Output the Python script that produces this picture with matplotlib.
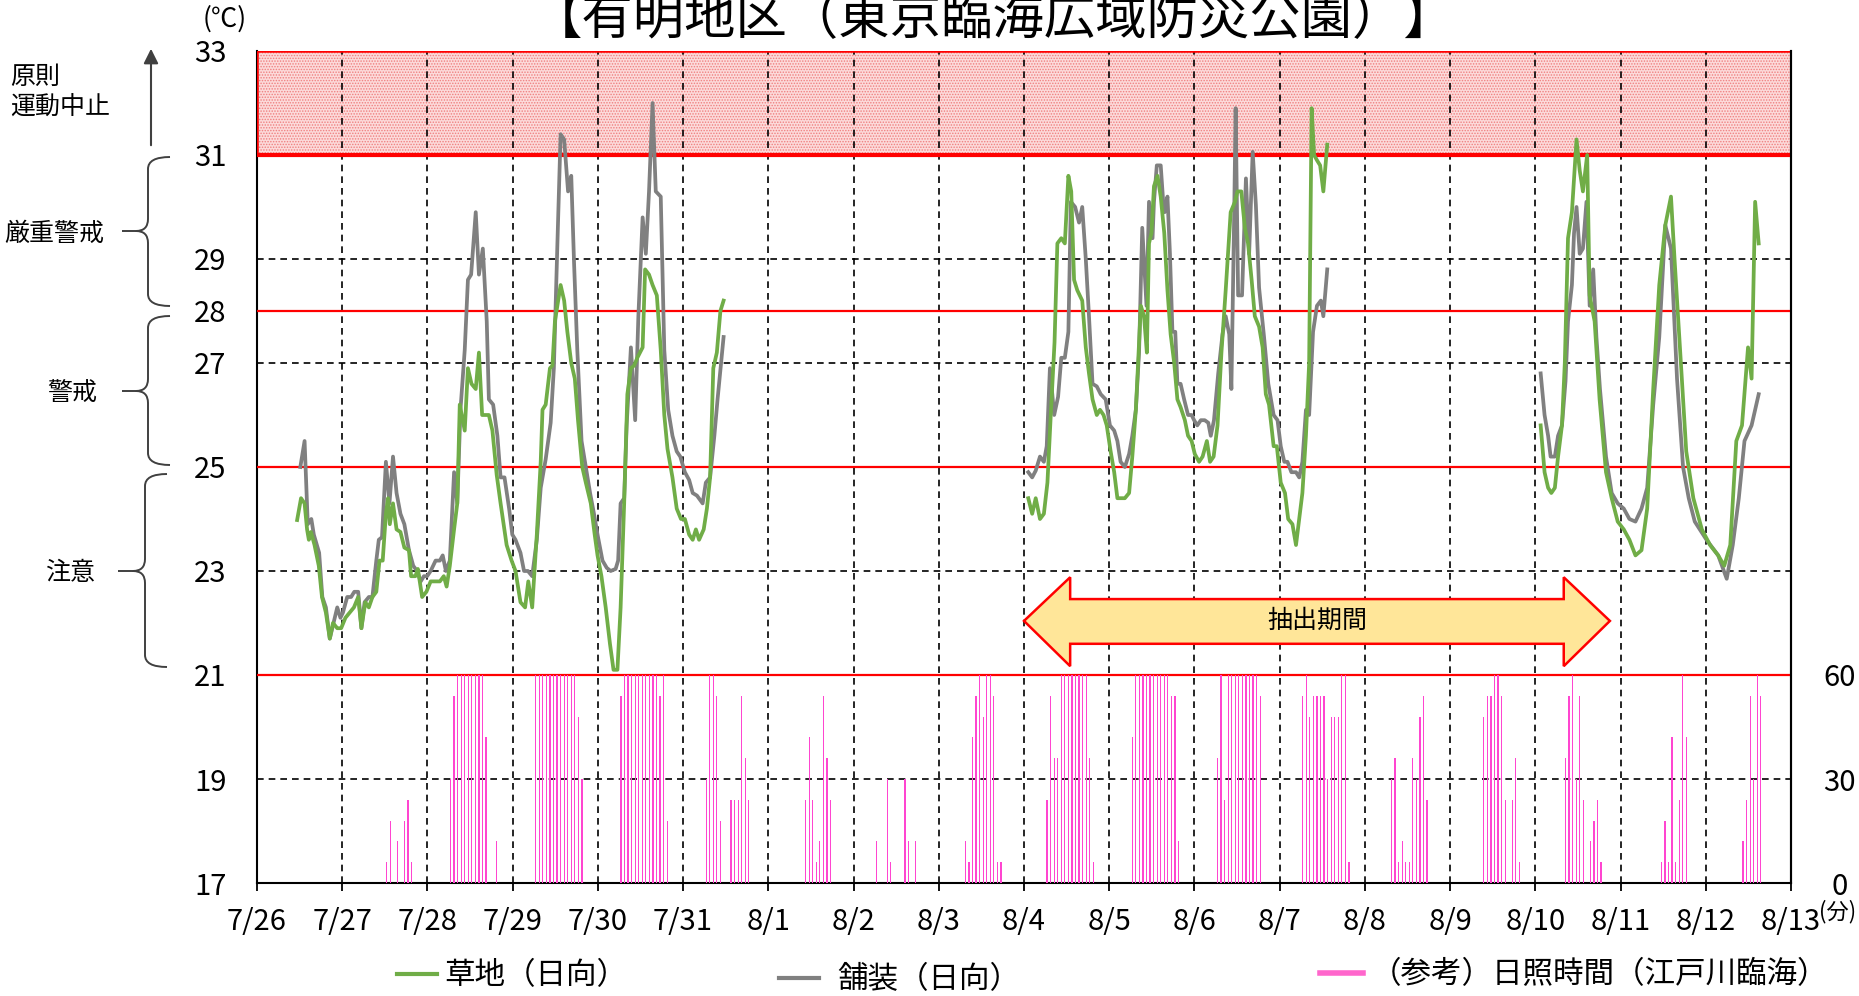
import numpy as np
import matplotlib
matplotlib.use("Agg")
import matplotlib.pyplot as plt
from matplotlib.patches import Rectangle, Polygon, PathPatch, FancyArrowPatch
from matplotlib.lines import Line2D
from matplotlib.path import Path

plt.rcParams["font.family"] = ["Noto Sans CJK JP", "DejaVu Sans"]
plt.rcParams["hatch.linewidth"] = 0.7

W, H = 1859, 996

date_labels = ["7/26", "7/27", "7/28", "7/29", "7/30", "7/31", "8/1", "8/2", "8/3",
               "8/4", "8/5", "8/6", "8/7", "8/8", "8/9", "8/10", "8/11", "8/12", "8/13"]
temp_ticks = [17, 19, 21, 23, 25, 27, 28, 29, 31, 33]
sun_ticks = [0, 30, 60]

# hours counted from 7/26 0:00
# 舗装（日向）
paved_h1 = [12.2, 13.4, 14.3, 15.3, 16.0, 17.5, 18.4, 19.4, 20.5, 22.6,
            23.5, 24.2, 25.4, 26.5, 27.4, 28.5, 29.4, 30.3, 31.5, 32.5,
            33.6, 34.3, 35.2, 36.3, 37.3, 38.3, 39.3, 40.4, 41.5, 42.8,
            44.0, 45.1, 46.1, 47.0, 47.9, 48.9, 50.3, 51.5, 52.3, 53.2,
            54.3, 55.5, 56.4, 57.3, 58.5, 59.4, 60.3, 61.6, 62.5, 63.6,
            64.7, 65.3, 66.5, 67.7, 68.6, 69.7, 71.0, 71.9, 72.8, 74.2,
            75.2, 76.3, 77.5, 78.8, 79.9, 81.3, 82.7, 83.6, 84.6, 85.5,
            86.5, 87.6, 88.5, 89.3, 90.2, 91.4, 92.6, 93.8, 94.9, 95.9,
            97.3, 98.5, 99.6, 101.0, 101.7, 102.4, 103.4, 104.1, 105.3, 106.5,
            107.4, 108.6, 109.5, 110.4, 111.4, 112.3, 113.7, 114.7, 115.8, 117.0,
            118.2, 119.2, 120.5, 121.7, 122.7, 123.9, 125.5, 126.4, 127.6, 128.8,
            129.7, 131.4]
paved_t1 = [25.0, 25.5, 23.9, 24.0, 23.7, 23.35, 22.5, 22.3, 21.7, 22.3,
            22.1, 22.2, 22.5, 22.5, 22.6, 22.6, 21.9, 22.4, 22.5, 22.5,
            23.2, 23.6, 23.65, 25.1, 24.3, 25.2, 24.5, 24.1, 23.9, 23.4,
            23.1, 23.0, 22.8, 22.9, 22.9, 23.0, 23.2, 23.2, 23.3, 23.0,
            23.2, 24.9, 24.3, 26.1, 27.25, 28.6, 28.7, 29.9, 28.7, 29.2,
            27.8, 26.3, 26.2, 25.6, 24.8, 24.8, 24.2, 23.7, 23.6, 23.35,
            23.0, 23.0, 22.9, 23.6, 24.6, 25.15, 25.85, 26.9, 29.3, 31.4,
            31.3, 30.3, 30.6, 28.9, 27.25, 25.5, 25.0, 24.5, 24.1, 23.7,
            23.2, 23.06, 23.0, 23.04, 23.2, 24.3, 24.4, 25.8, 27.3, 25.9,
            27.9, 29.8, 29.1, 30.3, 32.0, 30.3, 30.2, 27.25, 26.1, 25.6,
            25.3, 25.2, 24.9, 24.75, 24.5, 24.45, 24.3, 24.7, 24.8, 25.6,
            26.3, 27.5]
paved_h2 = [217.2, 218.3, 219.3, 220.5, 221.6, 222.4, 223.3, 224.5, 225.6, 226.5,
            227.5, 228.5, 229.2, 230.4, 231.5, 232.4, 233.4, 234.3, 235.3, 236.5,
            237.6, 239.0, 240.2, 241.4, 242.3, 243.2, 244.4, 245.6, 246.5, 247.5,
            248.4, 249.3, 250.5, 251.2, 252.2, 252.6, 253.4, 254.5, 255.3, 255.6,
            256.4, 257.1, 257.8, 258.6, 259.2, 260.1, 261.1, 262.2, 263.2, 263.9,
            264.8, 265.8, 266.9, 267.9, 268.6, 269.5, 270.7, 271.9, 272.8, 273.8,
            274.4, 275.2, 275.6, 276.3, 277.4, 278.5, 279.4, 280.4, 281.3, 282.2,
            283.6, 284.8, 286.3, 287.4, 288.3, 289.3, 290.2, 291.3, 292.6, 293.5,
            294.4, 295.4, 296.3, 297.4, 298.5, 299.6, 300.3, 301.4]
paved_t2 = [24.9, 24.8, 24.93, 25.2, 25.1, 25.4, 26.9, 26.0, 26.35, 27.1,
            27.1, 27.6, 30.1, 30.0, 29.7, 30.0, 29.0, 27.9, 26.6, 26.55,
            26.4, 26.3, 25.8, 25.7, 25.5, 25.1, 25.0, 25.25, 25.6, 26.1,
            27.2, 29.6, 28.1, 30.1, 29.4, 30.1, 30.8, 30.8, 30.0, 29.9,
            30.2, 29.1, 27.6, 27.6, 26.6, 26.6, 26.3, 26.0, 26.0, 25.9,
            25.8, 25.9, 25.9, 25.85, 25.6, 25.9, 26.8, 27.55, 27.9, 27.55,
            26.5, 29.9, 31.9, 28.3, 28.3, 30.55, 29.1, 31.06, 30.04, 28.45,
            27.5, 26.6, 26.0, 25.9, 25.4, 25.1, 25.1, 24.9, 24.9, 24.8,
            25.1, 26.1, 26.0, 27.6, 28.1, 28.2, 27.9, 28.8]
paved_h3 = [361.5, 362.6, 363.6, 364.3, 365.5, 366.4, 367.5, 368.5, 369.2, 370.3,
            370.9, 371.6, 372.5, 373.4, 374.4, 375.3, 376.3, 377.2, 378.2, 379.9,
            381.5, 383.2, 384.9, 386.5, 388.2, 389.9, 391.5, 393.2, 394.9, 396.6,
            398.2, 399.9, 401.6, 403.2, 404.9, 408.2, 411.5, 413.9, 415.6, 417.3,
            418.9, 420.9, 422.9]
paved_t3 = [26.8, 26.0, 25.6, 25.2, 25.2, 25.6, 25.8, 26.65, 27.8, 28.5,
            29.5, 30.0, 29.1, 29.2, 30.1, 28.1, 28.8, 27.5, 26.5, 25.2,
            24.5, 24.3, 24.2, 24.0, 23.95, 24.2, 24.6, 26.2, 27.5, 29.65,
            29.2, 26.7, 25.0, 24.4, 23.95, 23.6, 23.3, 22.85, 23.5, 24.4,
            25.5, 25.8, 26.4]

# 草地（日向）
grass_h1 = [11.3, 12.4, 13.4, 14.1, 14.6, 15.2, 16.2, 17.4, 18.3, 19.4,
            20.5, 21.4, 22.6, 23.7, 24.9, 26.1, 27.3, 28.5, 29.4, 30.5,
            31.5, 32.5, 33.6, 34.5, 35.4, 36.3, 36.9, 37.4, 38.3, 39.3,
            40.4, 41.5, 42.8, 43.4, 44.6, 45.3, 46.5, 47.7, 48.9, 50.3,
            51.5, 52.6, 53.4, 54.3, 55.5, 56.4, 57.1, 58.5, 59.4, 60.4,
            61.6, 62.5, 63.4, 65.3, 66.3, 67.5, 68.6, 70.3, 71.7, 72.8,
            74.2, 75.5, 76.4, 77.5, 78.8, 79.9, 80.4, 81.3, 82.5, 83.2,
            83.9, 85.5, 86.5, 87.4, 88.5, 89.5, 90.4, 91.6, 92.6, 94.0,
            95.1, 95.9, 97.0, 98.2, 99.4, 100.4, 101.5, 102.4, 103.4, 104.3,
            105.3, 106.2, 107.1, 108.6, 109.3, 110.4, 111.4, 112.6, 113.7, 114.7,
            115.6, 117.0, 118.2, 119.4, 120.5, 121.7, 122.7, 123.6, 124.5, 125.8,
            126.7, 127.6, 128.5, 129.5, 130.5, 131.4]
grass_t1 = [23.98, 24.4, 24.3, 23.8, 23.6, 23.75, 23.5, 23.1, 22.5, 22.2,
            21.7, 22.0, 21.9, 21.9, 22.1, 22.2, 22.3, 22.5, 21.9, 22.4,
            22.3, 22.5, 22.6, 23.2, 23.2, 24.1, 24.4, 23.9, 24.3, 23.8,
            23.75, 23.45, 23.4, 22.9, 22.9, 23.04, 22.5, 22.6, 22.8, 22.8,
            22.8, 22.9, 22.7, 23.1, 23.8, 24.3, 26.2, 25.7, 26.9, 26.6,
            26.5, 27.2, 26.0, 26.0, 25.7, 24.85, 24.3, 23.5, 23.2, 23.0,
            22.4, 22.3, 22.8, 22.3, 23.7, 25.1, 26.1, 26.2, 26.9, 26.95,
            27.8, 28.5, 28.2, 27.6, 27.0, 26.7, 25.9, 25.0, 24.7, 24.3,
            23.7, 23.3, 22.9, 22.3, 21.6, 21.1, 21.1, 22.3, 24.3, 26.4,
            26.9, 26.95, 27.1, 27.3, 28.8, 28.7, 28.5, 28.3, 27.25, 26.0,
            25.35, 24.8, 24.2, 24.0, 24.0, 23.7, 23.6, 23.8, 23.6, 23.8,
            24.2, 24.8, 26.9, 27.2, 28.0, 28.2]
grass_h2 = [217.2, 218.3, 219.3, 220.5, 221.6, 222.6, 223.5, 224.6, 225.4, 226.5,
            227.5, 228.5, 229.3, 230.1, 231.0, 232.4, 233.4, 234.3, 235.3, 236.5,
            237.4, 238.4, 239.3, 240.4, 241.4, 242.3, 244.4, 245.6, 246.5, 247.5,
            248.9, 249.8, 250.6, 251.2, 251.9, 252.6, 253.6, 254.5, 255.5, 256.4,
            257.3, 258.3, 259.2, 260.1, 261.3, 262.2, 263.2, 264.1, 265.3, 266.3,
            267.5, 268.4, 269.4, 270.5, 271.6, 272.8, 274.2, 275.4, 276.1, 277.2,
            278.2, 279.1, 280.1, 281.0, 282.2, 283.2, 284.1, 285.0, 286.3, 287.2,
            288.3, 289.5, 290.4, 291.6, 292.6, 293.5, 294.4, 295.4, 296.3, 297.0,
            297.7, 298.5, 299.4, 300.3, 301.4]
grass_t2 = [24.4, 24.1, 24.4, 24.0, 24.1, 24.7, 25.95, 27.4, 29.3, 29.4,
            29.3, 30.6, 30.3, 28.6, 28.4, 28.2, 27.3, 26.8, 26.3, 26.0,
            26.1, 26.0, 25.8, 25.3, 24.9, 24.4, 24.4, 24.5, 25.2, 26.1,
            28.1, 27.9, 27.2, 29.3, 29.5, 30.4, 30.6, 30.2, 29.5, 28.4,
            27.55, 27.0, 26.3, 26.15, 25.9, 25.6, 25.5, 25.25, 25.1, 25.2,
            25.5, 25.1, 25.2, 25.8, 27.2, 28.4, 29.9, 30.1, 30.3, 30.3,
            29.6, 29.3, 28.6, 27.9, 27.7, 27.3, 26.4, 26.2, 25.4, 25.4,
            24.7, 24.5, 24.0, 23.9, 23.5, 24.0, 24.5, 25.6, 27.0, 31.9,
            31.0, 30.9, 30.8, 30.3, 31.2]
grass_h3 = [361.5, 362.6, 363.6, 364.5, 365.5, 366.4, 367.5, 368.3, 369.2, 370.3,
            371.6, 372.5, 373.4, 374.6, 375.3, 376.7, 378.1, 379.9, 381.5, 383.2,
            384.9, 386.5, 388.2, 389.9, 391.5, 393.2, 394.9, 396.6, 398.2, 399.2,
            400.9, 402.5, 404.5, 406.9, 409.2, 411.5, 413.2, 414.9, 416.6, 418.2,
            419.9, 420.9, 421.9, 422.9]
grass_t3 = [25.8, 24.9, 24.6, 24.5, 24.6, 25.2, 25.8, 27.0, 29.4, 29.9,
            31.3, 30.7, 30.3, 31.0, 28.3, 27.8, 26.3, 24.9, 24.4, 23.95,
            23.8, 23.6, 23.3, 23.4, 24.2, 26.5, 28.5, 29.65, 30.2, 29.0,
            27.1, 25.3, 24.4, 23.8, 23.5, 23.3, 23.1, 23.5, 25.5, 25.8,
            27.3, 26.7, 30.1, 29.3]

# （参考）日照時間（江戸川臨海）: minutes per hour, day index from 7/26, first hour
sun_day = [1, 2, 3, 4, 5, 6, 7, 8, 9, 10, 11, 12, 13, 14, 15, 16, 17]
sun_first_hour = [12, 6, 6, 6, 6, 10, 6, 7, 6, 6, 6, 6, 7, 9, 8, 11, 10]
sun_minutes = [
    [6, 18, 0, 12, 0, 18, 24, 6],
    [30, 54, 60, 60, 60, 60, 60, 60, 60, 60, 42, 0, 0, 12],
    [60, 60, 60, 60, 60, 60, 60, 60, 60, 60, 60, 60, 48, 30],
    [54, 60, 60, 60, 60, 60, 60, 60, 60, 60, 60, 54, 60, 18],
    [30, 60, 60, 54, 18, 0, 0, 24, 24, 24, 54, 36, 24],
    [24, 42, 24, 6, 12, 54, 36, 24],
    [12, 0, 0, 30, 6, 0, 0, 0, 30, 12, 0, 12],
    [12, 6, 42, 54, 60, 48, 60, 60, 54, 6, 6],
    [24, 54, 36, 36, 60, 60, 60, 60, 60, 60, 60, 60, 36, 6],
    [42, 60, 60, 60, 60, 60, 60, 60, 60, 60, 60, 54, 54, 12],
    [36, 60, 24, 60, 60, 60, 60, 60, 60, 60, 60, 60, 54],
    [54, 60, 48, 54, 54, 54, 54, 30, 48, 48, 48, 60, 60, 6],
    [30, 36, 6, 12, 6, 6, 36, 30, 48, 54, 24],
    [48, 54, 54, 60, 60, 54, 24, 0, 24, 36, 6],
    [36, 54, 60, 30, 54, 24, 0, 12, 18, 24, 6],
    [6, 18, 6, 42, 6, 24, 60, 42],
    [12, 24, 54, 30, 60, 54],
]

period_start, period_end = 216, 381   # 抽出期間 (hours)

GREEN = "#70ad47"
GRAY = "#808080"
PINK = "#ff45d0"


def fx(x):
    return x / W


def fy(y):
    return 1 - y / H


fig = plt.figure(figsize=(W / 100, H / 100), dpi=100)
ax = fig.add_axes([fx(257), fy(883), fx(1791) - fx(257), fy(51) - fy(883)])
ax2 = ax.twinx()

ax.set_xlim(0, 432)
ax.set_ylim(17, 33)
ax2.set_ylim(0, 240)

# 原則運動中止 zone
ax.add_patch(Rectangle((0, 31), 432, 2, facecolor="#fcdada", edgecolor="#ef7f7f",
                       hatch="......", lw=0, zorder=0.2))
ax.add_patch(Rectangle((0, 31), 432, 2, fill=False, edgecolor="red", lw=1.8, zorder=4))
ax.axhline(31, color="red", lw=3, zorder=4)
for lv in [28, 25, 21]:
    ax.axhline(lv, color="red", lw=1.6, zorder=3)

ax.set_axisbelow(True)
ax.set_xticks(np.arange(0, 433, 24))
ax.set_xticklabels(date_labels)
ax.set_yticks(temp_ticks)
ax.grid(True, color="black", linestyle=(0, (4, 3)), lw=1.2)

for hh, tt in [(paved_h1, paved_t1), (paved_h2, paved_t2), (paved_h3, paved_t3)]:
    ax.plot(hh, tt, color=GRAY, lw=2.7, zorder=5)
for hh, tt in [(grass_h1, grass_t1), (grass_h2, grass_t2), (grass_h3, grass_t3)]:
    ax.plot(hh, tt, color=GREEN, lw=2.7, zorder=6)

sun_x, sun_v = [], []
for d, h0, vals in zip(sun_day, sun_first_hour, sun_minutes):
    for k, v in enumerate(vals):
        if v > 0:
            sun_x.append(d * 24 + h0 + k + 0.5)
            sun_v.append(v)
ax2.bar(sun_x, sun_v, width=0.35, color=PINK, lw=0, zorder=2)

# 抽出期間 arrow
a0, a1 = period_start, period_end
head = 13
arrow = Polygon([(a0, 22.04), (a0 + head, 22.88), (a0 + head, 22.46), (a1 - head, 22.46),
                 (a1 - head, 22.88), (a1, 22.04), (a1 - head, 21.17), (a1 - head, 21.6),
                 (a0 + head, 21.6), (a0 + head, 21.17)], closed=True,
                facecolor="#ffe699", edgecolor="red", lw=1.8, zorder=7)
ax.add_patch(arrow)
ax.text((a0 + a1) / 2, 22.04, "抽出期間", ha="center", va="center", fontsize=18, zorder=8)

for s in ["top"]:
    ax.spines[s].set_visible(False)
    ax2.spines[s].set_visible(False)
for s in ["left", "bottom", "right"]:
    ax.spines[s].set_color("black")
    ax.spines[s].set_linewidth(1.5)
ax2.spines["right"].set_linewidth(1.5)
ax2.spines["left"].set_visible(False)
ax2.spines["bottom"].set_visible(False)

ax.tick_params(axis="y", length=0, pad=22, labelsize=21)
ax.tick_params(axis="x", length=6, width=1.3, direction="out", pad=11, labelsize=21)
ax2.set_yticks(sun_ticks)
ax2.tick_params(axis="y", length=0, pad=35, labelsize=21)
for lab in ax2.get_yticklabels():
    lab.set_horizontalalignment("center")

# texts
fig.text(fx(993), fy(19), "【有明地区（東京臨海広域防災公園）】", ha="center", va="center",
         fontsize=37)
fig.text(fx(225), fy(19), "(℃)", ha="center", va="center", fontsize=19)
fig.text(fx(1838), fy(912), "(分)", ha="center", va="center", fontsize=16)
fig.text(fx(10), fy(77), "原則", ha="left", va="center", fontsize=18)
fig.text(fx(10), fy(108), "運動中止", ha="left", va="center", fontsize=18)
fig.text(fx(54), fy(234), "厳重警戒", ha="center", va="center", fontsize=18)
fig.text(fx(72), fy(393), "警戒", ha="center", va="center", fontsize=18)
fig.text(fx(70), fy(573), "注意", ha="center", va="center", fontsize=18)

fig.add_artist(FancyArrowPatch((fx(151), fy(148)), (fx(151), fy(46)), transform=fig.transFigure,
                               arrowstyle="-|>", mutation_scale=22, color="#404040", lw=1.5))


def brace(x_tip, x_line, x_end, y_top, y_bot, y_mid):
    r = 12
    verts = [(x_end, y_top), (x_line, y_top), (x_line, y_top + r),
             (x_line, y_mid - r), (x_line, y_mid), (x_line - r, y_mid),
             (x_tip, y_mid),
             (x_line - r, y_mid), (x_line, y_mid), (x_line, y_mid + r),
             (x_line, y_bot - r), (x_line, y_bot), (x_end, y_bot)]
    codes = [Path.MOVETO, Path.CURVE3, Path.CURVE3, Path.LINETO, Path.CURVE3, Path.CURVE3,
             Path.LINETO, Path.MOVETO, Path.CURVE3, Path.CURVE3, Path.LINETO, Path.CURVE3,
             Path.CURVE3]
    verts = [(fx(a), fy(b)) for a, b in verts]
    fig.add_artist(PathPatch(Path(verts, codes), fill=False, edgecolor="#404040", lw=1.4,
                             transform=fig.transFigure))


brace(122, 148, 170, 157, 306, 231)
brace(122, 148, 170, 316, 465, 391)
brace(118, 145, 167, 474, 667, 571)

# legends
fig.legend(handles=[Line2D([], [], color=GREEN, lw=3)], labels=["草地（日向）"],
           loc="center left", bbox_to_anchor=(fx(397), fy(976)), frameon=False,
           fontsize=22, handlelength=1.3, handletextpad=0.25, borderpad=0, borderaxespad=0)
fig.legend(handles=[Line2D([], [], color=GRAY, lw=3)], labels=["舗装（日向）"],
           loc="center left", bbox_to_anchor=(fx(779), fy(980)), frameon=False,
           fontsize=22, handlelength=1.3, handletextpad=0.6, borderpad=0, borderaxespad=0)
fig.legend(handles=[Line2D([], [], color="#ff66cc", lw=4)], labels=["（参考）日照時間（江戸川臨海）"],
           loc="center left", bbox_to_anchor=(fx(1320), fy(975)), frameon=False,
           fontsize=22, handlelength=1.4, handletextpad=0.25, borderpad=0, borderaxespad=0)

fig.savefig("out.png", dpi=100)
